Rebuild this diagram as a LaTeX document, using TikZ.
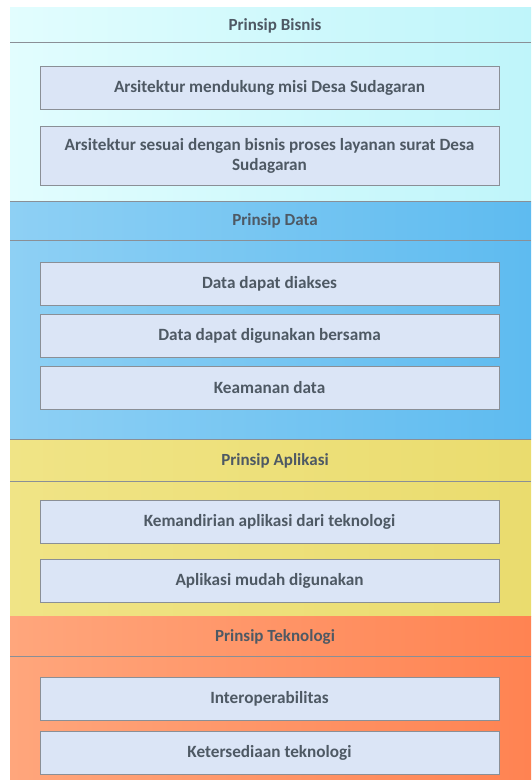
\documentclass[tikz,border=0pt]{standalone}
\usepackage{fontspec}
\setmainfont{Carlito}
\usetikzlibrary{positioning}
\definecolor{ink}{HTML}{4E5964}
\definecolor{rule}{HTML}{8A8F96}
\definecolor{boxfill}{HTML}{DBE5F6}
\definecolor{bisnisl}{HTML}{E2FDFE}
\definecolor{bisnisr}{HTML}{BFF5FA}
\definecolor{datal}{HTML}{8ED0F4}
\definecolor{datar}{HTML}{5EBBF0}
\definecolor{aplil}{HTML}{F0E486}
\definecolor{aplir}{HTML}{EADC6E}
\definecolor{tekl}{HTML}{FFA67C}
\definecolor{tekr}{HTML}{FF8352}
\tikzset{
  font=\bfseries\fontsize{17.2}{20}\selectfont,
  %
  item/.style={
    draw=rule, line width=1pt, fill=boxfill, text=ink, align=center,
    minimum width=459pt, minimum height=43pt, inner sep=2pt,
  },
  head/.style={font=\bfseries\fontsize{17}{20}\selectfont, text=ink},
  sep/.style={draw=rule, line width=1pt},
}
\begin{document}
\begin{tikzpicture}[x=1pt, y=-1pt]
\useasboundingbox (0,0) rectangle (531,780);
\fill[white] (0,0) rectangle (531,780);

% ---------------------------------------------------------------- bisnis
\shade[left color=bisnisl, right color=bisnisr] (10,7) rectangle (531,201);
\draw[sep] (10,42) -- (531,42);
\node[head] (hbisnis) at (275,26) {Prinsip Bisnis};
\node[item] (bis1) at (269.5,87.5) {Arsitektur mendukung misi Desa Sudagaran};
\node[item, minimum height=59pt] (bis2) at (269.5,155.5)
  {Arsitektur sesuai dengan bisnis proses layanan surat Desa\\Sudagaran};

% ------------------------------------------------------------------ data
\shade[left color=datal, right color=datar] (10,201) rectangle (531,439);
\draw[sep] (10,201) -- (531,201);
\draw[sep] (10,240) -- (531,240);
\node[head] (hdata) at (275,221) {Prinsip Data};
\node[item] (dat1) at (269.5,283.5) {Data dapat diakses};
\node[item] (dat2) at (269.5,335.5) {Data dapat digunakan bersama};
\node[item] (dat3) at (269.5,388) {Keamanan data};

% -------------------------------------------------------------- aplikasi
\shade[left color=aplil, right color=aplir] (10,439) rectangle (531,616);
\draw[sep] (10,439) -- (531,439);
\draw[sep] (10,481) -- (531,481);
\node[head] (haplikasi) at (275,461) {Prinsip Aplikasi};
\node[item] (apl1) at (269.5,522) {Kemandirian aplikasi dari teknologi};
\node[item] (apl2) at (269.5,581) {Aplikasi mudah digunakan};

% ------------------------------------------------------------- teknologi
\shade[left color=tekl, right color=tekr] (10,616) rectangle (531,780);
\draw[sep] (10,656) -- (531,656);
\node[head] (hteknologi) at (275,637) {Prinsip Teknologi};
\node[item] (tek1) at (269.5,698.5) {Interoperabilitas};
\node[item] (tek2) at (269.5,753) {Ketersediaan teknologi};

\end{tikzpicture}
\end{document}
